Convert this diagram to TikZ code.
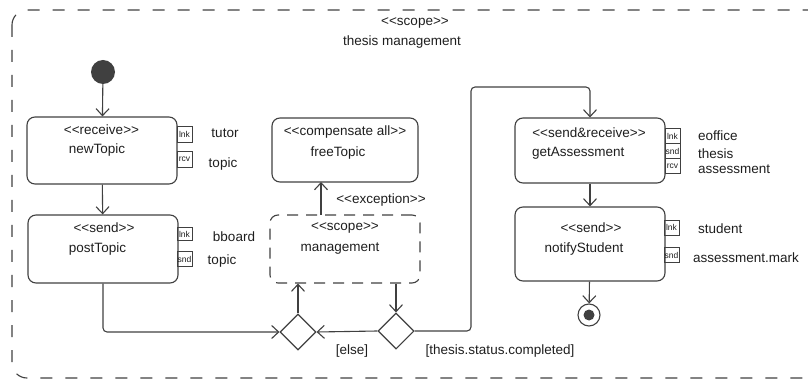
\documentclass[tikz,border=0pt]{standalone}
\usepackage{fontspec}
\setmainfont{Liberation Sans}
\usetikzlibrary{arrows.meta,shapes.geometric}
\definecolor{linegray}{HTML}{404040}
\definecolor{textgray}{HTML}{1E1E1E}
\newcommand{\stereo}[1]{\textless\kern0pt\textless#1\textgreater\kern0pt\textgreater}
\tikzset{
  action/.style={draw=linegray, line width=1.1pt, rounded corners=8pt, minimum width=150pt, inner sep=0pt},
  scopebox/.style={action, dash pattern=on 11pt off 8pt},
  port/.style={draw=linegray, line width=0.6pt, minimum width=15pt, minimum height=15pt, inner sep=0pt,
    text=textgray, font=\fontsize{8.5}{9}\selectfont},
  txt/.style={text=textgray, font=\fontsize{13.5}{15}\selectfont, inner sep=0pt},
  flow/.style={draw=linegray, line width=1.1pt, rounded corners=4pt, -{Straight Barb[length=7pt,width=13pt]}},
  decision/.style={diamond, draw=linegray, line width=1.1pt, minimum width=36pt, minimum height=36pt, inner sep=0pt}
}

\begin{document}
\begin{tikzpicture}[x=1pt,y=-1pt]
  \useasboundingbox (0,0) rectangle (808,379);
  % outer scope
  \draw [linegray, line width=1.1pt, dash pattern=on 12pt off 13pt, rounded corners=15pt] (12,10) rectangle (850,378);
  \node [txt] (outer-st) at (415,23) {\stereo{scope}};
  \node [txt] (outer-nm) at (402,42) {thesis management};

  % start and end
  \node [circle, fill=linegray, minimum size=24pt, inner sep=0pt] (start) at (103,72) {};
  \node [circle, draw=linegray, line width=1.1pt, minimum size=22pt, inner sep=0pt] (final) at (589,315) {};
  \node [circle, fill=linegray, minimum size=11pt, inner sep=0pt] (final-dot) at (final) {};

  % actions
  \node [action, minimum height=67pt] (newTopic) at (102,150.5) {};
  \node [txt] (newTopic-st) at (101.5,130) {\stereo{receive}};
  \node [txt] (newTopic-nm) at (97,150) {newTopic};

  \node [action, minimum height=68pt] (postTopic) at (103,249) {};
  \node [txt] (postTopic-st) at (104,228) {\stereo{send}};
  \node [txt] (postTopic-nm) at (97.5,249) {postTopic};

  \node [action, minimum width=146pt, minimum height=64pt] (freeTopic) at (345,150) {};
  \node [txt] (freeTopic-st) at (345,132) {\stereo{compensate all}};
  \node [txt] (freeTopic-nm) at (338,153) {freeTopic};

  \node [scopebox, minimum height=68pt] (management) at (345,249) {};
  \node [txt] (management-st) at (345,228) {\stereo{scope}};
  \node [txt] (management-nm) at (340,249) {management};

  \node [action, minimum height=65pt] (getAssessment) at (590,150.5) {};
  \node [txt] (getAssessment-st) at (589,133) {\stereo{send\&receive}};
  \node [txt, anchor=west] (getAssessment-nm) at (532,153) {getAssessment};

  \node [action, minimum height=74pt] (notifyStudent) at (590,244) {};
  \node [txt] (notifyStudent-st) at (591,228) {\stereo{send}};
  \node [txt] (notifyStudent-nm) at (584,249) {notifyStudent};

  % pins
  \node [port, minimum height=16pt] (nt-lnk) at (184.5,134) {lnk};
  \node [port, minimum height=16pt] (nt-rcv) at (184.5,159) {rcv};
  \node [port, minimum height=13pt] (pt-lnk) at (184.5,234) {lnk};
  \node [port, minimum height=15pt] (pt-snd) at (184.5,259) {snd};
  \node [port] (ga-lnk) at (672.5,136) {lnk};
  \node [port] (ga-snd) at (672.5,151) {snd};
  \node [port] (ga-rcv) at (672.5,166) {rcv};
  \node [port] (ns-lnk) at (671.5,227.5) {lnk};
  \node [port] (ns-snd) at (671.5,255) {snd};

  % pin labels
  \node [txt] (lbl-tutor) at (225,133) {tutor};
  \node [txt] (lbl-topic1) at (223,164) {topic};
  \node [txt] (lbl-bboard) at (234,237) {bboard};
  \node [txt] (lbl-topic2) at (222,261) {topic};
  \node [txt, anchor=west] (lbl-eoffice) at (698,136) {eoffice};
  \node [txt, anchor=west] (lbl-thesis) at (698,154) {thesis};
  \node [txt, anchor=west] (lbl-assessment) at (698,169) {assessment};
  \node [txt, anchor=west] (lbl-student) at (698,229) {student};
  \node [txt, anchor=west] (lbl-mark) at (693,258) {assessment.mark};

  % decisions
  \node [decision] (merge) at (298,332) {};
  \node [decision] (check) at (396,331) {};
  \node [txt] (lbl-else) at (352,351) {[else]};
  \node [txt] (lbl-completed) at (500,351) {[thesis.status.completed]};
  \node [txt] (lbl-exception) at (381,200) {\stereo{exception}};
  \coordinate (up-left) at (471,87);

  % flows
  \draw [flow] (start) -- (newTopic);
  \draw [flow] (newTopic) -- (postTopic);
  \draw [flow] (postTopic.south) |- (merge.west);
  \draw [flow] (check.west) -- (merge.east);
  \draw [flow] (merge.north) -- (merge.north |- management.south);
  \draw [flow] (check.north |- management.south) -- (check.north);
  \draw [flow] (321,215) -- (321,182);
  \draw [flow] (check.east) -| (up-left) -| (getAssessment.north);
  \draw [flow] (getAssessment) -- (notifyStudent);
  \draw [flow] (notifyStudent) -- (final);
\end{tikzpicture}
\end{document}
